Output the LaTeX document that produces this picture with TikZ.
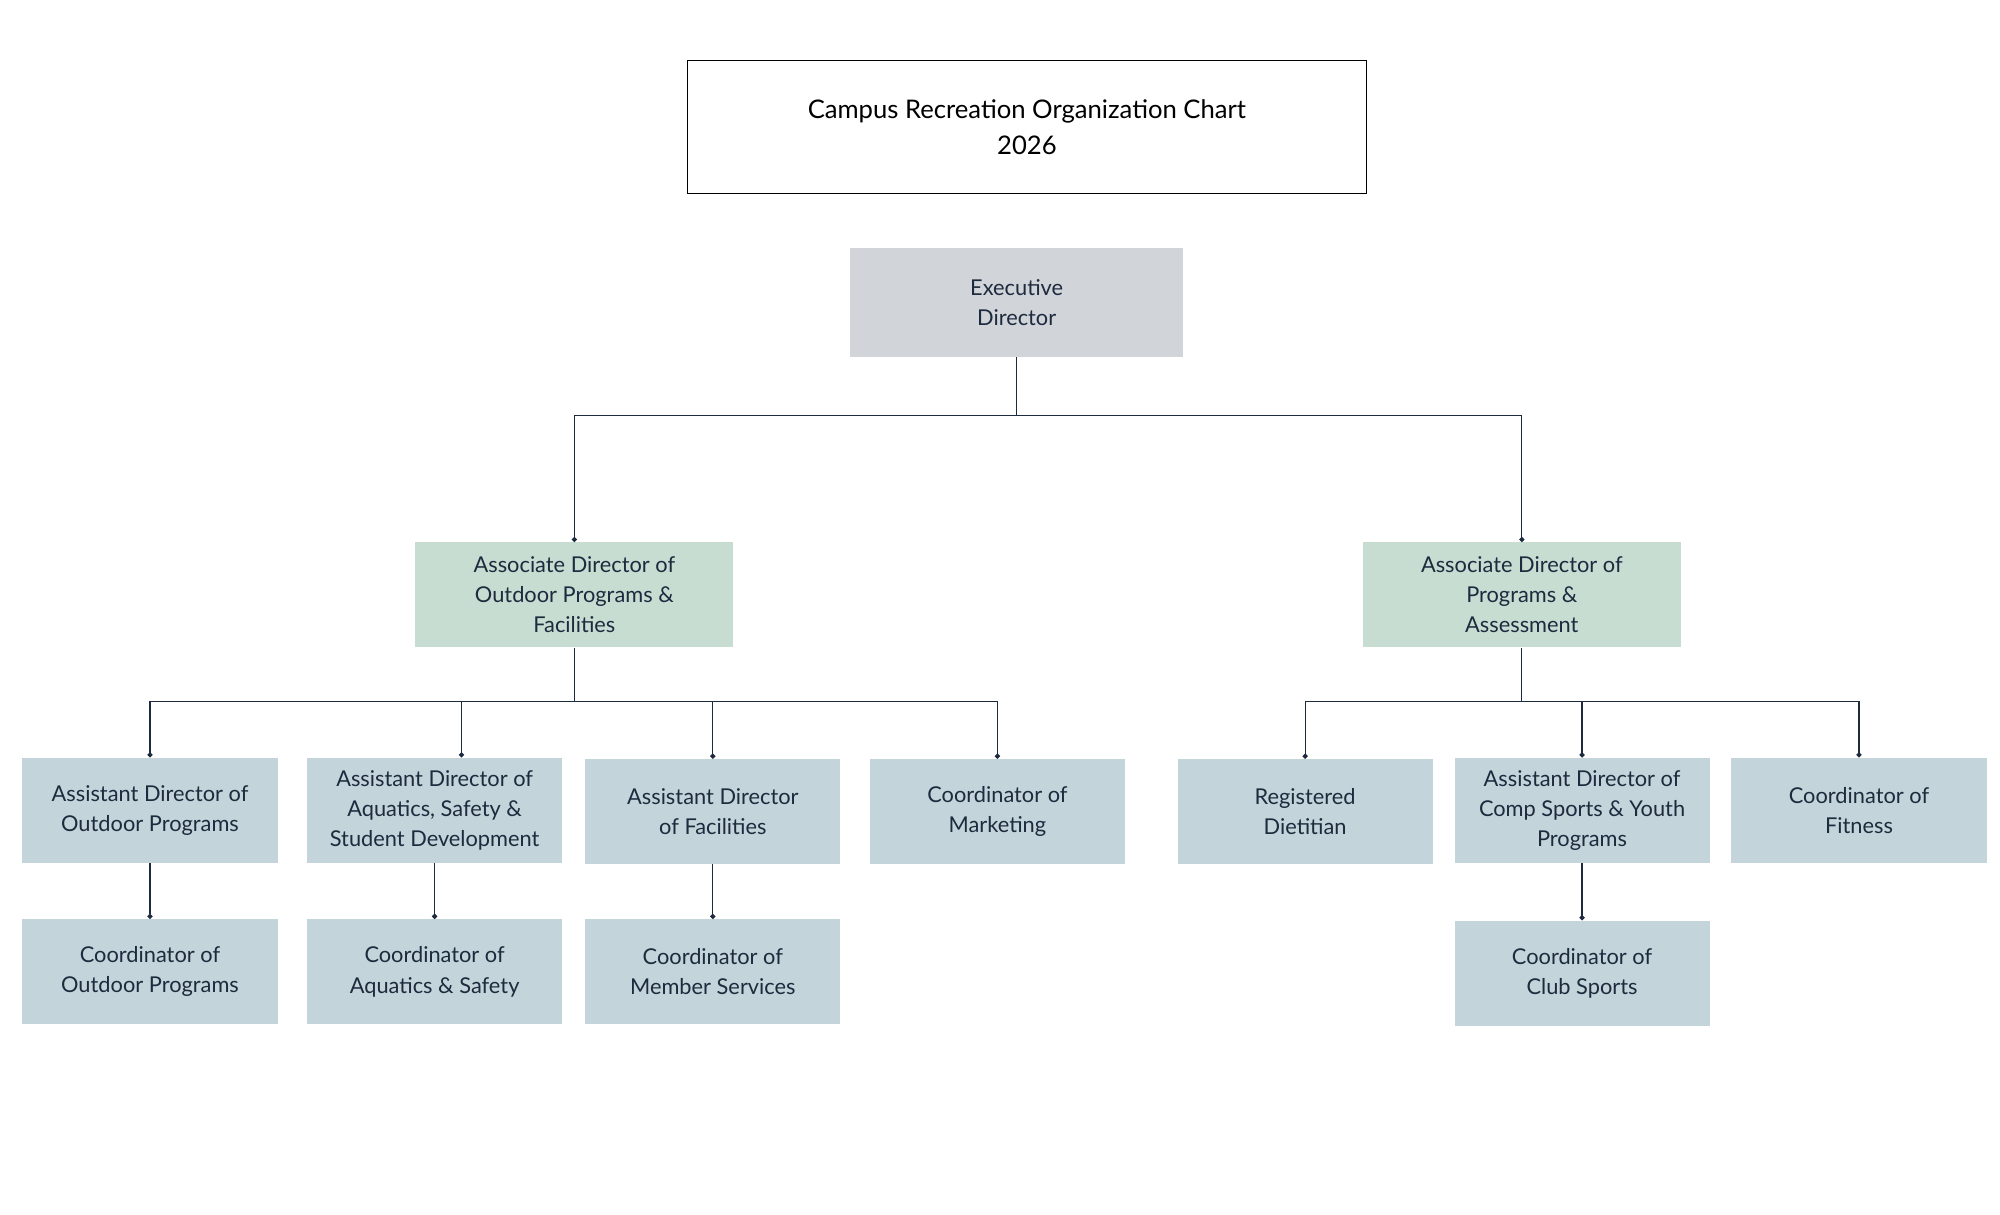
\documentclass[tikz,border=0pt]{standalone}
\usepackage{fontspec}
\setmainfont{Lato}
\usetikzlibrary{arrows.meta}
\definecolor{linenavy}{HTML}{1E2A3E}
\definecolor{execgray}{HTML}{D1D5DA}
\definecolor{assocgreen}{HTML}{C8DDD2}
\definecolor{staffblue}{HTML}{C3D5DA}
\tikzset{
  box/.style={minimum width=199pt, minimum height=82pt, align=center, inner sep=2pt,
    font=\fontsize{17}{23.5}\selectfont, text=linenavy},
  exec/.style={box, fill=execgray, minimum width=260pt, minimum height=85pt},
  assoc/.style={box, fill=assocgreen, minimum width=248pt},
  staff/.style={box, fill=staffblue},
  link/.style={draw=linenavy, line width=0.9pt, -{Circle[length=4pt]}},
}
\begin{document}
\begin{tikzpicture}[x=1pt,y=-1pt]
  \useasboundingbox (0,0) rectangle (1560,947);
  % title
  \node[box, draw=black, line width=0.8pt, minimum width=529pt, minimum height=104pt, text=black,
    font=\fontsize{20}{28}\selectfont] (title) at (801,99) {Campus Recreation Organization Chart\\2026};
  % top levels
  \node[exec] (ed) at (793,236) {Executive\\ Director};
  \node[assoc] (adop) at (448,464) {Associate Director of\\Outdoor Programs \&\\Facilities};
  \node[assoc] (adpa) at (1187,464) {Associate Director of\\Programs \&\\Assessment};
  % third row
  \node[staff] (asop) at (117,632) {Assistant Director of\\Outdoor Programs};
  \node[staff] (asaq) at (339,632) {Assistant Director of\\Aquatics, Safety \&\\Student Development};
  \node[staff] (asfa) at (556,633) {Assistant Director\\of Facilities};
  \node[staff] (comk) at (778,633) {Coordinator of\\Marketing};
  \node[staff] (rdie) at (1018,633) {Registered\\Dietitian};
  \node[staff] (ascs) at (1234,632) {Assistant Director of\\Comp Sports \& Youth\\Programs};
  \node[staff] (cofi) at (1450,632) {Coordinator of\\Fitness};
  % fourth row
  \node[staff] (coop) at (117,758) {Coordinator of\\Outdoor Programs};
  \node[staff] (coaq) at (339,758) {Coordinator of\\Aquatics \& Safety};
  \node[staff] (coms) at (556,758) {Coordinator of\\Member Services};
  \node[staff] (cocl) at (1234,759) {Coordinator of\\Club Sports};
  % joints
  \coordinate (jed) at (793,324);
  \coordinate (jop) at (448,547);
  \coordinate (jpa) at (1187,547);
  \draw[linenavy, line width=0.9pt] (ed.south) -- (jed);
  \draw[link] (jed) -| (adop.north);
  \draw[link] (jed) -| (adpa.north);
  \draw[linenavy, line width=0.9pt] (adop.south) -- (jop);
  \draw[linenavy, line width=0.9pt] (adpa.south) -- (jpa);
  \draw[link] (jop) -| (asop.north);
  \draw[link] (jop) -| ([xshift=21pt]asaq.north);
  \draw[link] (jop) -| (asfa.north);
  \draw[link] (jop) -| (comk.north);
  \draw[link] (jpa) -| (rdie.north);
  \draw[link] (jpa) -| (ascs.north);
  \draw[link] (jpa) -| (cofi.north);
  \draw[link] (asop) -- (coop);
  \draw[link] (asaq) -- (coaq);
  \draw[link] (asfa) -- (coms);
  \draw[link] (ascs) -- (cocl);
\end{tikzpicture}
\end{document}
